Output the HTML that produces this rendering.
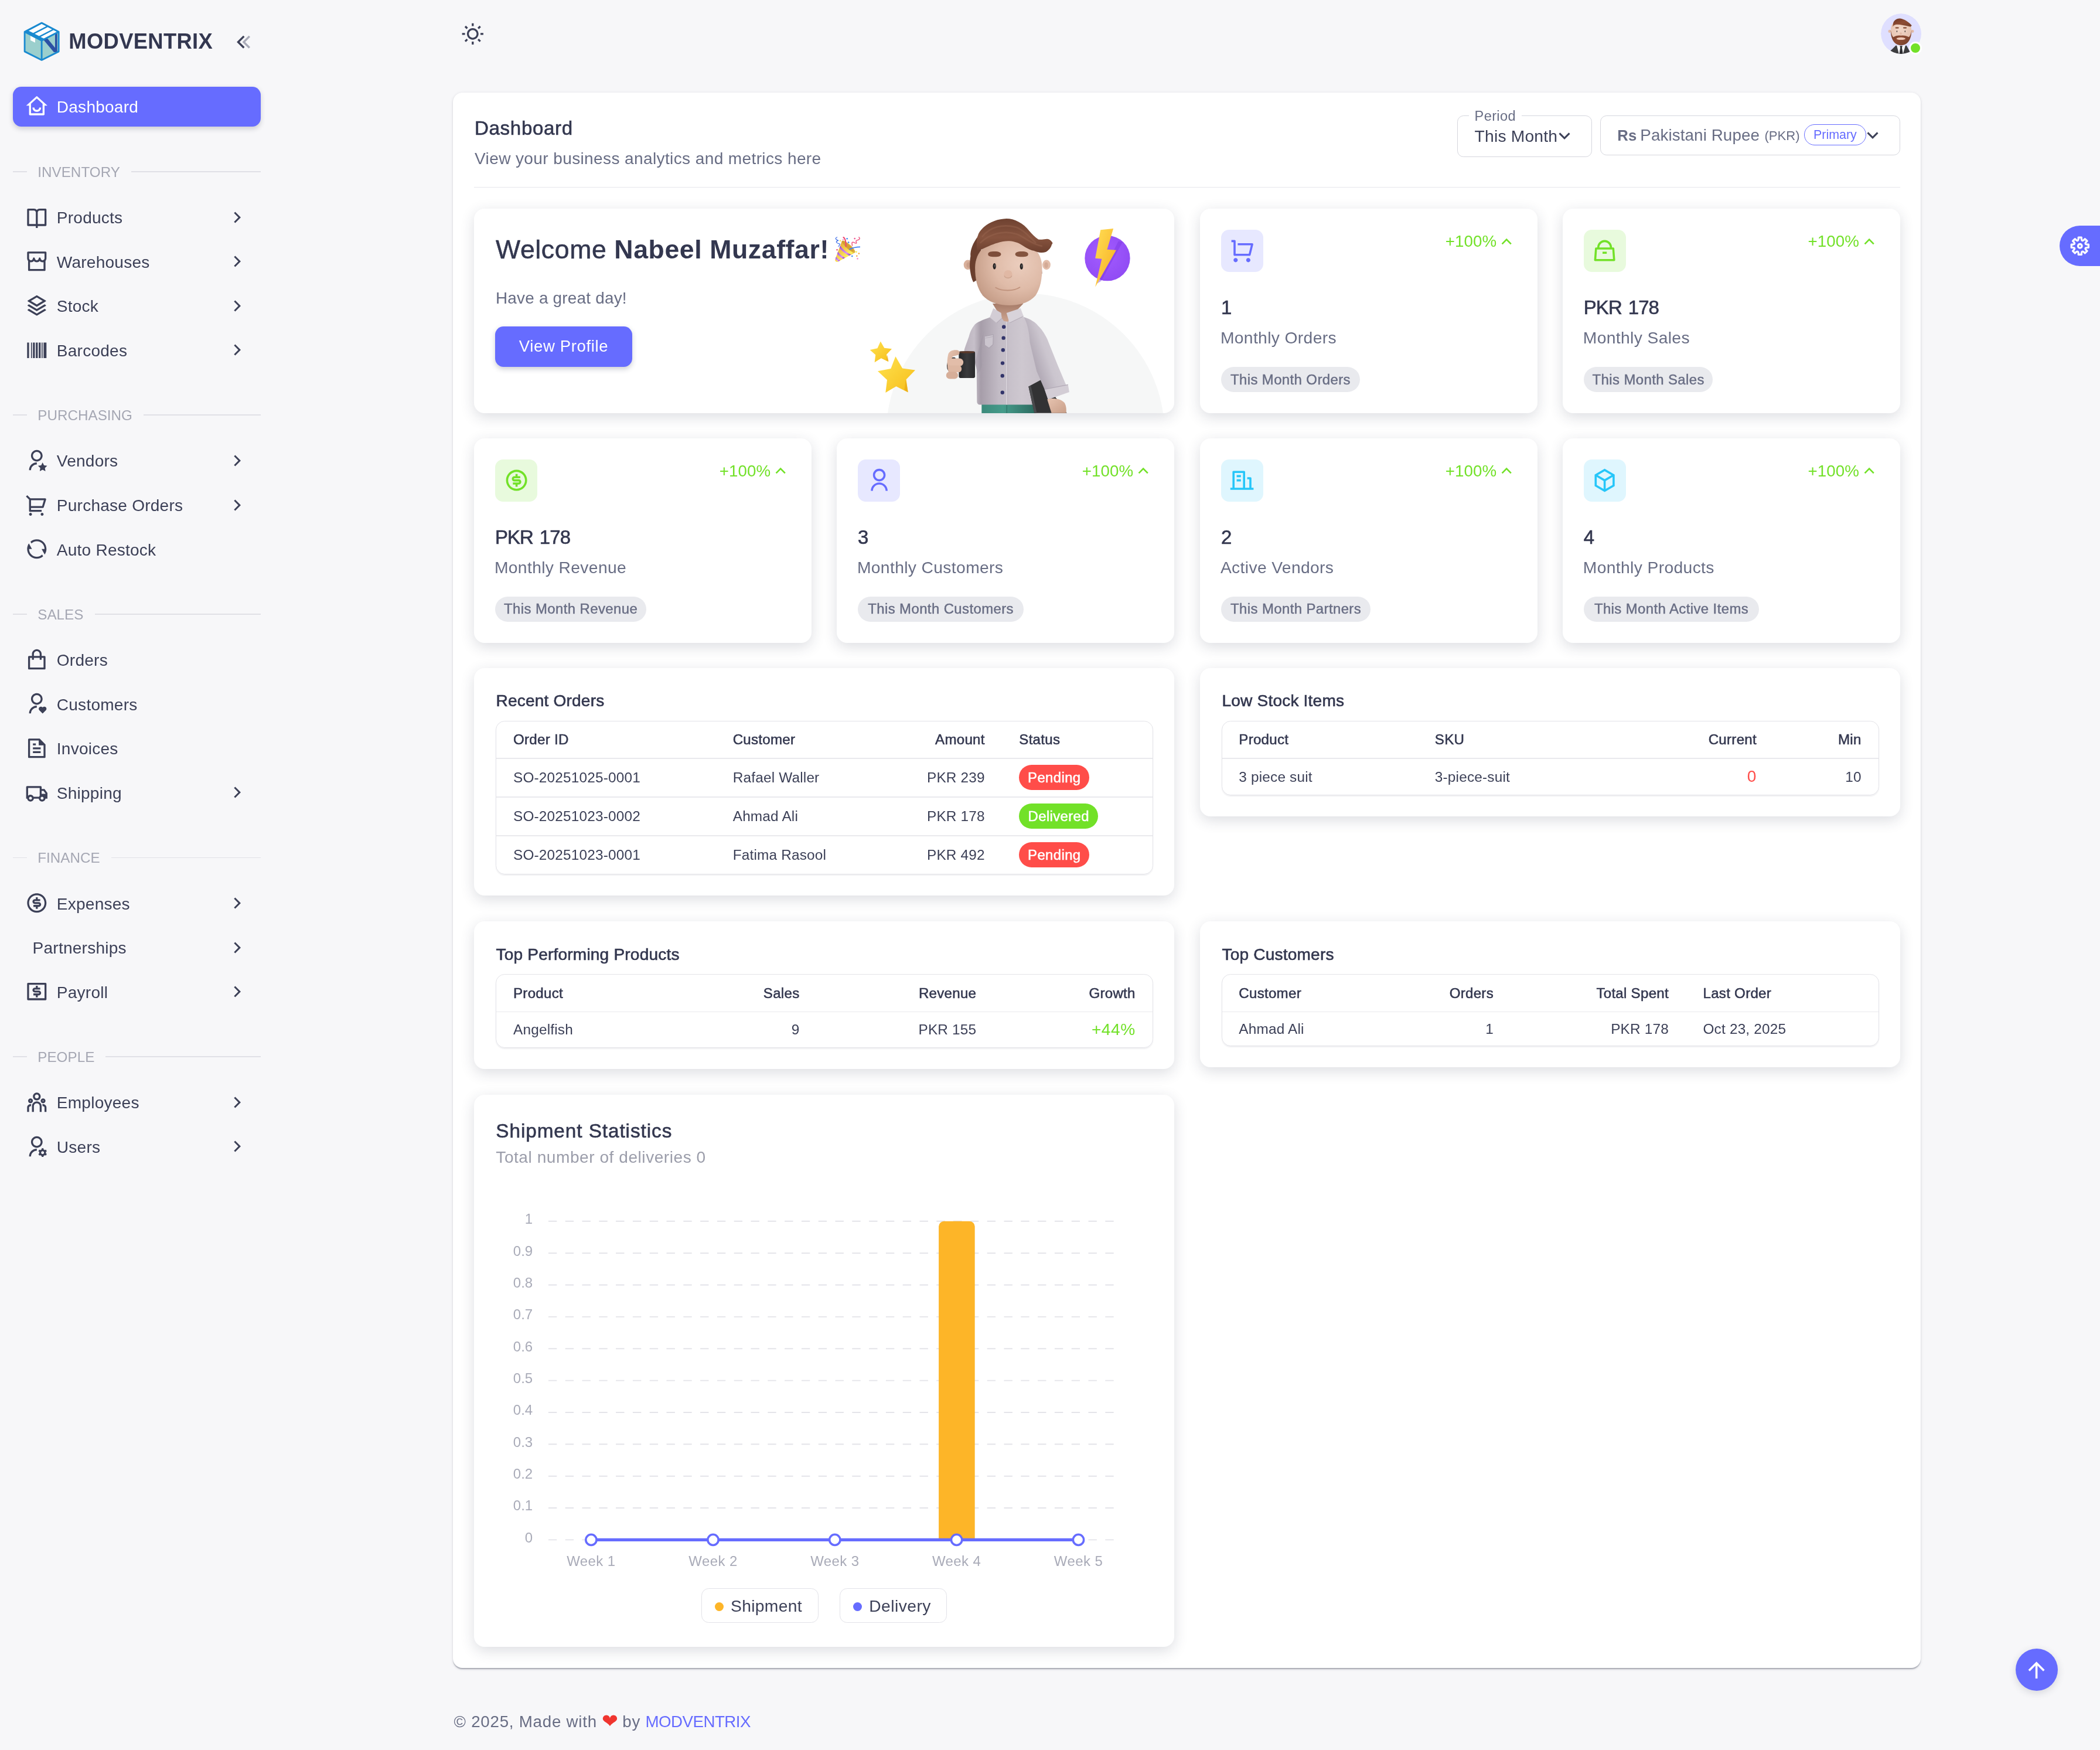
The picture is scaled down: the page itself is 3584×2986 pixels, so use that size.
<!DOCTYPE html>
<html lang="en">
<head>
<meta charset="utf-8">
<title>MODVENTRIX - Dashboard</title>
<style>
*{box-sizing:border-box;margin:0;padding:0}
html,body{background:#f7f7f9;overflow:hidden}
body{font-family:"Liberation Sans",sans-serif;color:#3c4057;-webkit-font-smoothing:antialiased}
#app{will-change:transform;position:relative;width:1991.11px;height:1658.89px;zoom:1.8;overflow:hidden;background:#f7f7f9;font-size:15px;line-height:1.4667}
@media (max-width:2600px){#app{zoom:.9}}
svg{display:block}
.abs{position:absolute}
/* ---------- sidebar ---------- */
.sidebar{position:absolute;left:0;top:0;width:260px;height:100%}
.logo{position:absolute;left:22.45px;top:20.35px;width:34.6px;height:37.5px}
.brand{position:absolute;left:65.2px;top:28.1px;font-size:20.2px;font-weight:700;line-height:22px;color:#333750;letter-spacing:.18px}
.collapse{position:absolute;left:220.6px;top:28.1px;width:23px;height:23px}
.nav{position:absolute;left:12.3px;top:82.4px;width:235px}
.item{position:relative;height:37.4px;margin-bottom:4.6px;border-radius:8px;display:flex;align-items:center;padding-left:11.5px;color:#3c4057;font-size:15.6px;letter-spacing:.12px}
.item .lb{position:relative;top:.6px}
.item .ic{width:22px;height:22px;flex:none;margin-right:8px}
.item .ic svg{width:22px;height:22px;fill:currentColor}
.item .chev{position:absolute;right:12.5px;top:8.7px;width:20px;height:20px;fill:currentColor}
.item.active{background:#666cff;color:#fff;box-shadow:0 2px 5px rgba(38,43,67,.2)}
.sect{height:62.8px;display:flex;align-items:center;padding-top:14px;font-size:13.45px;color:#a5a7b3;letter-spacing:.02px}
.sect span{margin:0 10.6px 0 9.9px;line-height:20px;position:relative;top:.35px}
.sect i{height:1px;background:#e0e0e6;display:block}
.sect i.l{width:13.5px}
.sect i.r{flex:1}
/* ---------- navbar ---------- */
.sun{position:absolute;left:437.4px;top:21px;width:22px;height:22px}
.avatar{position:absolute;left:1783.45px;top:12.75px;width:38.45px;height:38.45px;border-radius:50%;overflow:hidden}
.dot{position:absolute;left:1810.15px;top:39.65px;width:12.1px;height:12.1px;border-radius:50%;background:#72e128;border:2px solid #fff}
/* ---------- container ---------- */
.wrap{position:absolute;left:429.5px;top:87.8px;width:1391.7px;height:1493.4px;background:#fff;border-radius:9px;box-shadow:0 2px 1px -1px rgba(38,43,67,.2),0 1px 1px 0 rgba(38,43,67,.14),0 1px 3px 0 rgba(38,43,67,.12)}
.main{position:absolute;left:0;top:0;width:100%;height:100%}
.card{position:absolute;background:#fff;border-radius:10px;box-shadow:0 3.5px 13px rgba(38,43,67,.155)}
h5{font-weight:500;font-size:18px;color:#33374f}
.t2{color:#6b6e82}

/* ---------- generic text ---------- */
.t{position:absolute;line-height:1;white-space:nowrap}
.h{color:#33374f;font-weight:400;-webkit-text-stroke:.35px #33374f}
.wt{-webkit-text-stroke:.3px #33374f}
.wt b{font-weight:700;-webkit-text-stroke:0}
.p{color:#3c4057}
.s2{color:#686d84}
.s3{color:#9b9daa}
.g{color:#72e128}
.w{color:#fff}
.pr{color:#666cff}
.th{color:#33374f;-webkit-text-stroke:.3px #33374f;letter-spacing:.15px}
.td{color:#3c4057;letter-spacing:.1px}
.hr{position:absolute;height:.9px;background:#e6e6eb}
.sel{position:absolute;border:1px solid #d5d6dd;border-radius:6px;background:#fff}
.notch{position:absolute;background:#fff}
.ochip{position:absolute;border:1px solid #666cff;border-radius:20px}
.btn{position:absolute;background:#666cff;border-radius:8px;box-shadow:0 2px 5px rgba(38,43,67,.22)}
.welcome{overflow:hidden}
.tile{position:absolute;left:19.9px;top:19.9px;width:40px;height:40px;border-radius:7.6px}
.tile svg{position:absolute;left:8px;top:8px;width:24px;height:24px}
.chip{position:absolute;background:#e9eaee;border-radius:20px}
.badge{position:absolute;border-radius:20px}
.tbl{position:absolute;border:1px solid #e3e3e8;border-radius:8.5px;box-shadow:0 1px 1px rgba(38,43,67,.07)}
.tbl i{position:absolute;left:0;right:0;height:.9px;background:#e9e9ed}
.ax{font-family:"Liberation Sans",sans-serif;font-size:24px;fill:#a9abb8}
.lg{position:absolute;border:1px solid #e2e2e8;border-radius:7px}
.lg i{position:absolute;left:11.8px;top:50%;width:8.4px;height:8.4px;margin-top:-3.4px;border-radius:50%}
.heart{color:#f0352f;font-family:"DejaVu Sans",sans-serif;font-size:18.5px;line-height:0;position:relative;top:.75px;letter-spacing:0;margin:0 -.6px 0 -.2px}
.fab-set{position:absolute;background:#666cff;border-radius:20px 0 0 20px}
.fab-set svg{position:absolute;left:8.1px;top:8.25px;width:22px;height:22px}
.fab-top{position:absolute;background:#666cff;border-radius:50%;box-shadow:0 2px 7px rgba(38,43,67,.16)}
.fab-top svg{position:absolute;left:8px;top:8.5px;width:24px;height:24px}
</style>
</head>
<body>
<div id="app">
<aside class="sidebar">
<svg class="logo" viewBox="0 0 60 65">
<polygon points="30,2 58,16.5 58,49 30,63 2,49 2,16.5" fill="#9bcfcd"/>
<polygon points="30,2 58,16.5 30,31 2,16.5" fill="#1a8ad0"/>
<polygon points="30,3.6 37.5,7.5 16,18.6 8.6,14.8" fill="#fff"/>
<polygon points="40,8.8 47.2,12.5 25.7,23.7 18.5,20" fill="#fff"/>
<polygon points="49.7,13.8 55,16.6 33.6,27.8 28.2,25" fill="#fff"/>
<polygon points="11.6,23.2 19.2,27.2 19.2,34.4 11.6,30.6" fill="#fff"/>
<polygon points="33,29.8 38.8,26.8 55.3,47 55.3,50.2 50,50.2" fill="#2c51a4"/>
<polygon points="52,20 55.6,18.2 55.6,49.8 52,47" fill="#2c51a4"/>
<g fill="none" stroke="#1a8ad0" stroke-width="2.7" stroke-linejoin="round"><polygon points="30,2 58,16.5 58,49 30,63 2,49 2,16.5"/><path d="M2 16.5L30 31L58 16.5M30 31V63"/></g>
</svg>
<div class="brand">MODVENTRIX</div>
<svg class="collapse" viewBox="0 0 24 24"><path d="M12.4 12l5 5-1.4 1.4L9.6 12 16 5.6 17.4 7z" fill="#a9abb8"/><path d="M6.9 12l5 5-1.4 1.4L4.1 12l6.4-6.4L11.9 7z" fill="#3c4057"/></svg>
<nav class="nav">
<div class="item active"><span class="ic"><svg viewBox="0 0 24 24"><path d="M6 19H18V9.15745L12 3.7029L6 9.15745V19ZM19 21H5C4.44772 21 4 20.5523 4 20V11H1L11.3273 1.6115C11.7087 1.26475 12.2913 1.26475 12.6727 1.6115L23 11H20V20C20 20.5523 19.5523 21 19 21ZM7.5 13H9.5C9.5 14.3807 10.6193 15.5 12 15.5C13.3807 15.5 14.5 14.3807 14.5 13H16.5C16.5 15.4853 14.4853 17.5 12 17.5C9.51472 17.5 7.5 15.4853 7.5 13Z"/></svg></span><span class="lb">Dashboard</span></div>
<div class="sect"><i class="l"></i><span>INVENTORY</span><i class="r"></i></div>
<div class="item"><span class="ic"><svg viewBox="0 0 24 24"><path d="M13 21V23H11V21H3C2.44772 21 2 20.5523 2 20V4C2 3.44772 2.44772 3 3 3H9C10.1947 3 11.2671 3.52375 12 4.35418C12.7329 3.52375 13.8053 3 15 3H21C21.5523 3 22 3.44772 22 4V20C22 20.5523 21.5523 21 21 21H13ZM20 19V5H15C13.8954 5 13 5.89543 13 7V19H20ZM11 19V7C11 5.89543 10.1046 5 9 5H4V19H11Z"/></svg></span><span class="lb">Products</span><svg class="chev" viewBox="0 0 24 24"><path d="M13.1717 12.0007L8.22192 7.05093L9.63614 5.63672L16.0001 12.0007L9.63614 18.3646L8.22192 16.9504L13.1717 12.0007Z"/></svg></div>
<div class="item"><span class="ic"><svg viewBox="0 0 24 24"><path d="M21 11.6458V21C21 21.5523 20.5523 22 20 22H4C3.44772 22 3 21.5523 3 21V11.6458C2.37764 10.9407 2 10.0144 2 9V3C2 2.44772 2.44772 2 3 2H21C21.5523 2 22 2.44772 22 3V9C22 10.0144 21.6224 10.9407 21 11.6458ZM19 12.874C18.6804 12.9562 18.3453 13 18 13C16.8053 13 15.7329 12.4762 15 11.6458C14.2671 12.4762 13.1947 13 12 13C10.8053 13 9.73295 12.4762 9 11.6458C8.26706 12.4762 7.19469 13 6 13C5.6547 13 5.31962 12.9562 5 12.874V20H19V12.874ZM14 9C14 8.44772 14.4477 8 15 8C15.5523 8 16 8.44772 16 9C16 10.1046 16.8954 11 18 11C19.1046 11 20 10.1046 20 9V4H4V9C4 10.1046 4.89543 11 6 11C7.10457 11 8 10.1046 8 9C8 8.44772 8.44772 8 9 8C9.55228 8 10 8.44772 10 9C10 10.1046 10.8954 11 12 11C13.1046 11 14 10.1046 14 9Z"/></svg></span><span class="lb">Warehouses</span><svg class="chev" viewBox="0 0 24 24"><path d="M13.1717 12.0007L8.22192 7.05093L9.63614 5.63672L16.0001 12.0007L9.63614 18.3646L8.22192 16.9504L13.1717 12.0007Z"/></svg></div>
<div class="item"><span class="ic"><svg viewBox="0 0 24 24"><path d="M20.0833 15.1999L21.2854 15.9212C21.5221 16.0633 21.5989 16.3704 21.4569 16.6072C21.4146 16.6776 21.3557 16.7365 21.2854 16.7787L12.5144 22.0412C12.1977 22.2313 11.8021 22.2313 11.4854 22.0412L2.71451 16.7787C2.47772 16.6366 2.40093 16.3295 2.54301 16.0927C2.58523 16.0223 2.64413 15.9634 2.71451 15.9212L3.9166 15.1999L11.9999 20.0499L20.0833 15.1999ZM20.0833 10.4999L21.2854 11.2212C21.5221 11.3633 21.5989 11.6704 21.4569 11.9072C21.4146 11.9776 21.3557 12.0365 21.2854 12.0787L11.9999 17.6499L2.71451 12.0787C2.47772 11.9366 2.40093 11.6295 2.54301 11.3927C2.58523 11.3223 2.64413 11.2634 2.71451 11.2212L3.9166 10.4999L11.9999 15.3499L20.0833 10.4999ZM12.5144 1.30864L21.2854 6.5712C21.5221 6.71327 21.5989 7.0204 21.4569 7.25719C21.4146 7.32757 21.3557 7.38647 21.2854 7.42869L11.9999 12.9999L2.71451 7.42869C2.47772 7.28662 2.40093 6.97949 2.54301 6.7427C2.58523 6.67232 2.64413 6.61343 2.71451 6.5712L11.4854 1.30864C11.8021 1.11864 12.1977 1.11864 12.5144 1.30864ZM11.9999 3.33233L5.88723 6.99995L11.9999 10.6676L18.1126 6.99995L11.9999 3.33233Z"/></svg></span><span class="lb">Stock</span><svg class="chev" viewBox="0 0 24 24"><path d="M13.1717 12.0007L8.22192 7.05093L9.63614 5.63672L16.0001 12.0007L9.63614 18.3646L8.22192 16.9504L13.1717 12.0007Z"/></svg></div>
<div class="item"><span class="ic"><svg viewBox="0 0 24 24"><path d="M2 4H4V20H2V4ZM6 4H7V20H6V4ZM8 4H10V20H8V4ZM11 4H13V20H11V4ZM14 4H16V20H14V4ZM17 4H18V20H17V4ZM19 4H22V20H19V4Z"/></svg></span><span class="lb">Barcodes</span><svg class="chev" viewBox="0 0 24 24"><path d="M13.1717 12.0007L8.22192 7.05093L9.63614 5.63672L16.0001 12.0007L9.63614 18.3646L8.22192 16.9504L13.1717 12.0007Z"/></svg></div>
<div class="sect"><i class="l"></i><span>PURCHASING</span><i class="r"></i></div>
<div class="item"><span class="ic"><svg viewBox="0 0 24 24"><path d="M12 14V16C8.68629 16 6 18.6863 6 22H4C4 17.5817 7.58172 14 12 14ZM12 13C8.685 13 6 10.315 6 7C6 3.685 8.685 1 12 1C15.315 1 18 3.685 18 7C18 10.315 15.315 13 12 13ZM12 11C14.21 11 16 9.21 16 7C16 4.79 14.21 3 12 3C9.79 3 8 4.79 8 7C8 9.21 9.79 11 12 11ZM18 21.5L15.0611 23.0451L15.6224 19.7725L13.2447 17.4549L16.5305 16.9775L18 14L19.4695 16.9775L22.7553 17.4549L20.3776 19.7725L20.9389 23.0451L18 21.5Z"/></svg></span><span class="lb">Vendors</span><svg class="chev" viewBox="0 0 24 24"><path d="M13.1717 12.0007L8.22192 7.05093L9.63614 5.63672L16.0001 12.0007L9.63614 18.3646L8.22192 16.9504L13.1717 12.0007Z"/></svg></div>
<div class="item"><span class="ic"><svg viewBox="0 0 24 24"><path d="M4.00436 6.41686L0.761719 3.17422L2.17593 1.76001L5.41857 5.00265H20.6603C21.2126 5.00265 21.6603 5.45037 21.6603 6.00265C21.6603 6.09997 21.6461 6.19678 21.6182 6.29L19.2182 14.29C19.0913 14.713 18.7019 15.0027 18.2603 15.0027H6.00436V17.0027H17.0044V19.0027H5.00436C4.45207 19.0027 4.00436 18.5549 4.00436 18.0027V6.41686ZM6.00436 7.00265V13.0027H17.5163L19.3163 7.00265H6.00436ZM5.50436 23.0027C4.67593 23.0027 4.00436 22.3311 4.00436 21.5027C4.00436 20.6742 4.67593 20.0027 5.50436 20.0027C6.33279 20.0027 7.00436 20.6742 7.00436 21.5027C7.00436 22.3311 6.33279 23.0027 5.50436 23.0027ZM17.5044 23.0027C16.6759 23.0027 16.0044 22.3311 16.0044 21.5027C16.0044 20.6742 16.6759 20.0027 17.5044 20.0027C18.3328 20.0027 19.0044 20.6742 19.0044 21.5027C19.0044 22.3311 18.3328 23.0027 17.5044 23.0027Z"/></svg></span><span class="lb">Purchase Orders</span><svg class="chev" viewBox="0 0 24 24"><path d="M13.1717 12.0007L8.22192 7.05093L9.63614 5.63672L16.0001 12.0007L9.63614 18.3646L8.22192 16.9504L13.1717 12.0007Z"/></svg></div>
<div class="item"><span class="ic"><svg viewBox="0 0 24 24"><path d="M5.46257 4.43262C7.21556 2.91688 9.5007 2 12 2C17.5228 2 22 6.47715 22 12C22 14.1361 21.3302 16.1158 20.1892 17.7406L17 12H20C20 7.58172 16.4183 4 12 4C9.84982 4 7.89777 4.84827 6.46023 6.22842L5.46257 4.43262ZM18.5374 19.5674C16.7844 21.0831 14.4993 22 12 22C6.47715 22 2 17.5228 2 12C2 9.86386 2.66979 7.88416 3.8108 6.25944L7 12H4C4 16.4183 7.58172 20 12 20C14.1502 20 16.1022 19.1517 17.5398 17.7716L18.5374 19.5674Z"/></svg></span><span class="lb">Auto Restock</span></div>
<div class="sect"><i class="l"></i><span>SALES</span><i class="r"></i></div>
<div class="item"><span class="ic"><svg viewBox="0 0 24 24"><path d="M7 8V6C7 3.23858 9.23858 1 12 1C14.7614 1 17 3.23858 17 6V8H20C20.5523 8 21 8.44772 21 9V21C21 21.5523 20.5523 22 20 22H4C3.44772 22 3 21.5523 3 21V9C3 8.44772 3.44772 8 4 8H7ZM7 10H5V20H19V10H17V12H15V10H9V12H7V10ZM9 8H15V6C15 4.34315 13.6569 3 12 3C10.3431 3 9 4.34315 9 6V8Z"/></svg></span><span class="lb">Orders</span></div>
<div class="item"><span class="ic"><svg viewBox="0 0 24 24"><path d="M17.8409 15.659L18.0176 15.8358L18.1945 15.659C19.0732 14.7803 20.4978 14.7803 21.3765 15.659C22.2552 16.5377 22.2552 17.9623 21.3765 18.841L18.0176 22.1999L14.6589 18.841C13.7802 17.9623 13.7802 16.5377 14.6589 15.659C15.5376 14.7803 16.9622 14.7803 17.8409 15.659ZM12 14V16C8.68629 16 6 18.6863 6 22H4C4 17.6651 7.44784 14.1355 11.7508 14.0038L12 14ZM12 1C15.315 1 18 3.685 18 7C18 10.2397 15.4357 12.8776 12.2249 12.9959L12 13C8.685 13 6 10.315 6 7C6 3.76034 8.56434 1.12237 11.7751 1.00414L12 1ZM12 3C9.79 3 8 4.79 8 7C8 9.21 9.79 11 12 11C14.21 11 16 9.21 16 7C16 4.79 14.21 3 12 3Z"/></svg></span><span class="lb">Customers</span></div>
<div class="item"><span class="ic"><svg viewBox="0 0 24 24"><path d="M21 8V20.9932C21 21.5501 20.5552 22 20.0066 22H3.9934C3.44495 22 3 21.556 3 21.0082V2.9918C3 2.45531 3.4487 2 4.00221 2H14.9968L21 8ZM19 9H14V4H5V20H19V9ZM8 7H11V9H8V7ZM8 11H16V13H8V11ZM8 15H16V17H8V15Z"/></svg></span><span class="lb">Invoices</span></div>
<div class="item"><span class="ic"><svg viewBox="0 0 24 24"><path d="M8.96456 18C8.72194 19.6961 7.26324 21 5.5 21C3.73676 21 2.27806 19.6961 2.03544 18H1V6C1 5.44772 1.44772 5 2 5H16C16.5523 5 17 5.44772 17 6V8H20L23 12.0557V18H20.9646C20.7219 19.6961 19.2632 21 17.5 21C15.7368 21 14.2781 19.6961 14.0354 18H8.96456ZM15 7H3V15.0505C3.63526 14.4022 4.52066 14 5.5 14C6.8962 14 8.10145 14.8175 8.66318 16H14.3368C14.5045 15.647 14.7296 15.3264 15 15.0505V7ZM17 13H21V12.715L18.9917 10H17V13ZM17.5 19C18.1531 19 18.7087 18.5826 18.9146 18C18.9699 17.8436 19 17.6753 19 17.5C19 16.6716 18.3284 16 17.5 16C16.6716 16 16 16.6716 16 17.5C16 17.6753 16.0301 17.8436 16.0854 18C16.2913 18.5826 16.8469 19 17.5 19ZM7 17.5C7 16.6716 6.32843 16 5.5 16C4.67157 16 4 16.6716 4 17.5C4 17.6753 4.03008 17.8436 4.08535 18C4.29127 18.5826 4.84689 19 5.5 19C6.15311 19 6.70873 18.5826 6.91465 18C6.96992 17.8436 7 17.6753 7 17.5Z"/></svg></span><span class="lb">Shipping</span><svg class="chev" viewBox="0 0 24 24"><path d="M13.1717 12.0007L8.22192 7.05093L9.63614 5.63672L16.0001 12.0007L9.63614 18.3646L8.22192 16.9504L13.1717 12.0007Z"/></svg></div>
<div class="sect"><i class="l"></i><span>FINANCE</span><i class="r"></i></div>
<div class="item"><span class="ic"><svg viewBox="0 0 24 24"><path d="M12.0049 22.0027C6.48204 22.0027 2.00488 17.5256 2.00488 12.0027C2.00488 6.4799 6.48204 2.00275 12.0049 2.00275C17.5277 2.00275 22.0049 6.4799 22.0049 12.0027C22.0049 17.5256 17.5277 22.0027 12.0049 22.0027ZM12.0049 20.0027C16.4232 20.0027 20.0049 16.421 20.0049 12.0027C20.0049 7.58447 16.4232 4.00275 12.0049 4.00275C7.5866 4.00275 4.00488 7.58447 4.00488 12.0027C4.00488 16.421 7.5866 20.0027 12.0049 20.0027ZM8.50488 14.0027H14.0049C14.281 14.0027 14.5049 13.7789 14.5049 13.5027C14.5049 13.2266 14.281 13.0027 14.0049 13.0027H10.0049C8.62417 13.0027 7.50488 11.8835 7.50488 10.5027C7.50488 9.12203 8.62417 8.00275 10.0049 8.00275H11.0049V6.00275H13.0049V8.00275H15.5049V10.0027H10.0049C9.72874 10.0027 9.50488 10.2266 9.50488 10.5027C9.50488 10.7789 9.72874 11.0027 10.0049 11.0027H14.0049C15.3856 11.0027 16.5049 12.122 16.5049 13.5027C16.5049 14.8835 15.3856 16.0027 14.0049 16.0027H13.0049V18.0027H11.0049V16.0027H8.50488V14.0027Z"/></svg></span><span class="lb">Expenses</span><svg class="chev" viewBox="0 0 24 24"><path d="M13.1717 12.0007L8.22192 7.05093L9.63614 5.63672L16.0001 12.0007L9.63614 18.3646L8.22192 16.9504L13.1717 12.0007Z"/></svg></div>
<div class="item" style="padding-left:18.6px"><span class="lb">Partnerships</span><svg class="chev" viewBox="0 0 24 24"><path d="M13.1717 12.0007L8.22192 7.05093L9.63614 5.63672L16.0001 12.0007L9.63614 18.3646L8.22192 16.9504L13.1717 12.0007Z"/></svg></div>
<div class="item"><span class="ic"><svg viewBox="0 0 24 24"><path d="M3.00488 3.00275H21.0049C21.5572 3.00275 22.0049 3.45046 22.0049 4.00275V20.0027C22.0049 20.555 21.5572 21.0027 21.0049 21.0027H3.00488C2.4526 21.0027 2.00488 20.555 2.00488 20.0027V4.00275C2.00488 3.45046 2.4526 3.00275 3.00488 3.00275ZM4.00488 5.00275V19.0027H20.0049V5.00275H4.00488ZM8.50488 14.0027H14.0049C14.281 14.0027 14.5049 13.7789 14.5049 13.5027C14.5049 13.2266 14.281 13.0027 14.0049 13.0027H10.0049C8.62417 13.0027 7.50488 11.8835 7.50488 10.5027C7.50488 9.12203 8.62417 8.00275 10.0049 8.00275H11.0049V6.00275H13.0049V8.00275H15.5049V10.0027H10.0049C9.72874 10.0027 9.50488 10.2266 9.50488 10.5027C9.50488 10.7789 9.72874 11.0027 10.0049 11.0027H14.0049C15.3856 11.0027 16.5049 12.122 16.5049 13.5027C16.5049 14.8835 15.3856 16.0027 14.0049 16.0027H13.0049V18.0027H11.0049V16.0027H8.50488V14.0027Z"/></svg></span><span class="lb">Payroll</span><svg class="chev" viewBox="0 0 24 24"><path d="M13.1717 12.0007L8.22192 7.05093L9.63614 5.63672L16.0001 12.0007L9.63614 18.3646L8.22192 16.9504L13.1717 12.0007Z"/></svg></div>
<div class="sect"><i class="l"></i><span>PEOPLE</span><i class="r"></i></div>
<div class="item"><span class="ic"><svg viewBox="0 0 24 24"><path d="M12 11C14.7614 11 17 13.2386 17 16V22H15V16C15 14.4023 13.7511 13.0963 12.1763 13.0051L12 13C10.4023 13 9.09634 14.2489 9.00509 15.8237L9 16V22H7V16C7 13.2386 9.23858 11 12 11ZM5.5 14C5.77885 14 6.05009 14.0326 6.3101 14.0942C6.14202 14.594 6.03873 15.122 6.00896 15.6693L6 16L6.0007 16.0856C5.88757 16.0456 5.76821 16.0187 5.64446 16.0069L5.5 16C4.7203 16 4.07955 16.5949 4.00687 17.3555L4 17.5V22H2V17.5C2 15.567 3.567 14 5.5 14ZM18.5 14C20.433 14 22 15.567 22 17.5V22H20V17.5C20 16.7203 19.4051 16.0796 18.6445 16.0069L18.5 16C18.3248 16 18.1566 16.03 18.0003 16.0852L18 16C18 15.3343 17.8916 14.694 17.6915 14.0956C17.9499 14.0326 18.2211 14 18.5 14ZM5.5 8C6.88071 8 8 9.11929 8 10.5C8 11.8807 6.88071 13 5.5 13C4.11929 13 3 11.8807 3 10.5C3 9.11929 4.11929 8 5.5 8ZM18.5 8C19.8807 8 21 9.11929 21 10.5C21 11.8807 19.8807 13 18.5 13C17.1193 13 16 11.8807 16 10.5C16 9.11929 17.1193 8 18.5 8ZM5.5 10C5.22386 10 5 10.2239 5 10.5C5 10.7761 5.22386 11 5.5 11C5.77614 11 6 10.7761 6 10.5C6 10.2239 5.77614 10 5.5 10ZM18.5 10C18.2239 10 18 10.2239 18 10.5C18 10.7761 18.2239 11 18.5 11C18.7761 11 19 10.7761 19 10.5C19 10.2239 18.7761 10 18.5 10ZM12 2C14.2091 2 16 3.79086 16 6C16 8.20914 14.2091 10 12 10C9.79086 10 8 8.20914 8 6C8 3.79086 9.79086 2 12 2ZM12 4C10.8954 4 10 4.89543 10 6C10 7.10457 10.8954 8 12 8C13.1046 8 14 7.10457 14 6C14 4.89543 13.1046 4 12 4Z"/></svg></span><span class="lb">Employees</span><svg class="chev" viewBox="0 0 24 24"><path d="M13.1717 12.0007L8.22192 7.05093L9.63614 5.63672L16.0001 12.0007L9.63614 18.3646L8.22192 16.9504L13.1717 12.0007Z"/></svg></div>
<div class="item"><span class="ic"><svg viewBox="0 0 24 24"><path d="M12 14V16C8.68629 16 6 18.6863 6 22H4C4 17.5817 7.58172 14 12 14ZM12 13C8.685 13 6 10.315 6 7C6 3.685 8.685 1 12 1C15.315 1 18 3.685 18 7C18 10.315 15.315 13 12 13ZM12 11C14.21 11 16 9.21 16 7C16 4.79 14.21 3 12 3C9.79 3 8 4.79 8 7C8 9.21 9.79 11 12 11ZM14.5946 18.8115C14.5327 18.5511 14.5 18.2794 14.5 18C14.5 17.7207 14.5327 17.449 14.5945 17.1886L13.6029 16.6161L14.6029 14.884L15.5952 15.4569C15.9883 15.0851 16.4676 14.8034 17 14.6449V13.5H19V14.6449C19.5324 14.8034 20.0116 15.0851 20.4047 15.4569L21.3971 14.8839L22.3972 16.616L21.4055 17.1885C21.4673 17.449 21.5 17.7207 21.5 18C21.5 18.2793 21.4673 18.551 21.4055 18.8114L22.3972 19.3839L21.3972 21.116L20.4048 20.543C20.0117 20.9149 19.5325 21.1966 19.0001 21.355V22.5H17.0001V21.3551C16.4677 21.1967 15.9884 20.915 15.5953 20.5431L14.603 21.1161L13.6029 19.384L14.5946 18.8115ZM18 19.5C18.8284 19.5 19.5 18.8284 19.5 18C19.5 17.1716 18.8284 16.5 18 16.5C17.1716 16.5 16.5 17.1716 16.5 18C16.5 18.8284 17.1716 19.5 18 19.5Z"/></svg></span><span class="lb">Users</span><svg class="chev" viewBox="0 0 24 24"><path d="M13.1717 12.0007L8.22192 7.05093L9.63614 5.63672L16.0001 12.0007L9.63614 18.3646L8.22192 16.9504L13.1717 12.0007Z"/></svg></div>
</nav>
</aside>
<header class="navbar"><svg class="sun" viewBox="0 0 24 24" fill="#3c4057"><path d="M12 18C8.68629 18 6 15.3137 6 12C6 8.68629 8.68629 6 12 6C15.3137 6 18 8.68629 18 12C18 15.3137 15.3137 18 12 18ZM12 16C14.2091 16 16 14.2091 16 12C16 9.79086 14.2091 8 12 8C9.79086 8 8 9.79086 8 12C8 14.2091 9.79086 16 12 16ZM11 1H13V4H11V1ZM11 20H13V23H11V20ZM3.51472 4.92893L4.92893 3.51472L7.05025 5.63604L5.63604 7.05025L3.51472 4.92893ZM16.9497 18.364L18.364 16.9497L20.4853 19.0711L19.0711 20.4853L16.9497 18.364ZM19.0711 3.51472L20.4853 4.92893L18.364 7.05025L16.9497 5.63604L19.0711 3.51472ZM5.63604 16.9497L7.05025 18.364L4.92893 20.4853L3.51472 19.0711L5.63604 16.9497ZM23 11V13H20V11H23ZM4 11V13H1V11H4Z"/></svg>
<div class="avatar"><svg viewBox="0 0 1100 1100" role="img" aria-label="user avatar">
<defs>
<radialGradient id="as" cx=".45" cy=".35" r=".8"><stop offset="0" stop-color="#f1d6c7"/><stop offset=".7" stop-color="#e6c3b1"/><stop offset="1" stop-color="#cfa28d"/></radialGradient>
<linearGradient id="ah" x1="0" y1="0" x2="1" y2="1"><stop offset="0" stop-color="#6b3523"/><stop offset=".5" stop-color="#8e4c34"/><stop offset="1" stop-color="#74402c"/></linearGradient>
<clipPath id="ac"><circle cx="550" cy="550" r="550"/></clipPath>
</defs>
<circle cx="550" cy="550" r="550" fill="#dfdfff"/>
<g clip-path="url(#ac)">
<path d="M262 1010L410 868L548 900L694 866L790 1040L820 1110H230Z" fill="#3c3c3e"/>
<path d="M430 862L548 880L668 862L600 1100H490Z" fill="#f4f4f6"/>
<path d="M515 880H585L572 930L600 1100H500L528 930Z" fill="#2c2c30"/>
<ellipse cx="236" cy="482" rx="36" ry="42" fill="#e2bba8"/><ellipse cx="862" cy="482" rx="34" ry="42" fill="#e2bba8"/>
<path d="M270 450C270 250 400 190 550 190S830 250 830 450C840 700 700 850 550 850S260 700 270 450Z" fill="url(#as)"/>
<path d="M268 430C262 640 330 860 550 862C770 860 838 640 832 430C830 520 800 600 760 640C700 600 610 585 545 600C480 585 400 600 336 644C300 600 270 520 268 430Z" fill="url(#ah)"/>
<ellipse cx="545" cy="682" rx="122" ry="34" fill="#efc9b8"/>
<path d="M330 300C330 200 420 130 520 135C640 150 750 230 836 320C830 350 800 360 780 355C660 330 540 300 430 300C390 300 350 320 320 360Z" fill="url(#ah)"/>
<rect x="392" y="372" width="96" height="34" rx="17" fill="#7a4029"/><rect x="604" y="372" width="96" height="34" rx="17" fill="#7a4029"/>
<ellipse cx="436" cy="486" rx="11" ry="24" fill="#3a3434"/><ellipse cx="656" cy="486" rx="11" ry="24" fill="#3a3434"/>
<ellipse cx="542" cy="545" rx="30" ry="34" fill="#e4bca9"/>
</g>
</svg>
</div><div class="dot"></div></header>
<main class="main">
<div class="wrap" style="left:429.44px;top:87.78px;width:1391.67px;height:1493.33px"></div>
<header class="pagehead">
<div class="t h" style="top:112.20px;font-size:18.4px;left:450.00px;letter-spacing:.36px">Dashboard</div>
<div class="t s2" style="top:142.74px;font-size:15.6px;left:450.00px;letter-spacing:.2px">View your business analytics and metrics here</div>
<div class="hr" style="left:449.61px;top:177.06px;width:1351.78px"></div>
<div class="sel" style="left:1381.83px;top:109.61px;width:127.89px;height:39.22px"></div>
<div class="notch" style="left:1392.78px;top:108.33px;width:50.0px;height:5px"></div>
<div class="t s2" style="top:104.08px;font-size:13.1px;left:1398.11px;letter-spacing:.2px">Period</div>
<div class="t p" style="top:121.27px;font-size:15.7px;left:1398.11px;letter-spacing:.1px">This Month</div>
<svg class="abs" style="left:1473.44px;top:119.11000000000001px;width:20px;height:20px;fill:#3c4057" viewBox="0 0 24 24"><path d="M11.9999 13.1714L16.9497 8.22168L18.3639 9.63589L11.9999 15.9999L5.63599 9.63589L7.0502 8.22168L11.9999 13.1714Z"/></svg>
<div class="sel" style="left:1517.44px;top:109.61px;width:284.33px;height:37.56px"></div>
<div class="t s2" style="top:121.40px;font-size:14.3px;left:1533.50px;"><b>Rs</b></div>
<div class="t s2" style="top:120.42px;font-size:15.45px;left:1555.17px;letter-spacing:.05px">Pakistani Rupee</div>
<div class="t s2" style="top:122.53px;font-size:12.3px;left:1673.00px;">(PKR)</div>
<div class="ochip" style="left:1710.5px;top:117.67px;width:58.78px;height:19.94px"></div>
<div class="t pr" style="top:122.48px;font-size:11.9px;left:1589.94px;width:300px;text-align:center;font-weight:500;">Primary</div>
<svg class="abs" style="left:1765.67px;top:118.5px;width:20px;height:20px;fill:#3c4057" viewBox="0 0 24 24"><path d="M11.9999 13.1714L16.9497 8.22168L18.3639 9.63589L11.9999 15.9999L5.63599 9.63589L7.0502 8.22168L11.9999 13.1714Z"/></svg>
</header>
<section class="card welcome" style="left:449.61px;top:197.89px;width:663.72px;height:193.67px"><svg class="illus" viewBox="0 0 2100 1350" style="position:absolute;left:355.94px;top:-3.44px;width:311.11px;height:200px" role="img" aria-label="illustration">
<defs>
<radialGradient id="skin" cx=".66" cy=".38" r=".85"><stop offset="0" stop-color="#ebcdbd"/><stop offset=".45" stop-color="#dfbba8"/><stop offset=".8" stop-color="#c79f8a"/><stop offset="1" stop-color="#a87f6c"/></radialGradient>
<linearGradient id="skin2" x1="0" y1="0" x2="1" y2="1"><stop offset="0" stop-color="#e6c3b0"/><stop offset="1" stop-color="#c99f89"/></linearGradient>
<linearGradient id="neck" x1="0" y1="0" x2="0" y2="1"><stop offset="0" stop-color="#a67b68"/><stop offset="1" stop-color="#cda591"/></linearGradient>
<linearGradient id="hair" x1="0" y1="0" x2="0" y2="1"><stop offset="0" stop-color="#6f4231"/><stop offset=".55" stop-color="#87543f"/><stop offset="1" stop-color="#6d402f"/></linearGradient>
<linearGradient id="shirt" gradientUnits="userSpaceOnUse" x1="734" y1="0" x2="1260" y2="0"><stop offset="0" stop-color="#bcb4bf"/><stop offset=".12" stop-color="#c6bfc9"/><stop offset=".2" stop-color="#a69da9"/><stop offset=".42" stop-color="#c2bbc5"/><stop offset=".7" stop-color="#cec8d0"/><stop offset="1" stop-color="#c4bdc7"/></linearGradient>
<linearGradient id="arm" gradientUnits="userSpaceOnUse" x1="1150" y1="900" x2="1380" y2="820"><stop offset="0" stop-color="#b3abb7"/><stop offset=".35" stop-color="#cbc5ce"/><stop offset="1" stop-color="#d8d3da"/></linearGradient>
<linearGradient id="star" x1="0" y1="0" x2="1" y2="1"><stop offset="0" stop-color="#ffe350"/><stop offset="1" stop-color="#f6bd1a"/></linearGradient>
<radialGradient id="purp" cx=".42" cy=".4" r=".75"><stop offset="0" stop-color="#a35cff"/><stop offset="1" stop-color="#8d48f2"/></radialGradient>
<linearGradient id="bolt" x1="0" y1="0" x2="1" y2="1"><stop offset="0" stop-color="#ffdd55"/><stop offset="1" stop-color="#f7ad1e"/></linearGradient>
<linearGradient id="mug" x1="0" y1="0" x2="1" y2="0"><stop offset="0" stop-color="#262628"/><stop offset=".5" stop-color="#3a3a3c"/><stop offset="1" stop-color="#2a2a2c"/></linearGradient>
<linearGradient id="pants" x1="0" y1="0" x2="1" y2="0"><stop offset="0" stop-color="#3c8a7b"/><stop offset=".4" stop-color="#459b8a"/><stop offset="1" stop-color="#2b6a5f"/></linearGradient>
</defs>
<circle cx="1125" cy="1455" r="890" fill="#f6f7f7"/>
<!-- stars -->
<g fill="url(#star)">
<path d="M198 872l24 42 48 6-34 36 12 46-46-22-42 26 6-48-36-32 48-10z"/>
<path d="M294 968l44 76 82 12-58 60 12 82-76-38-68 40 10-82-60-56 84-16z"/>
</g>
<path d="M250 1000l-14-8 6-34zM374 1196l-24-12 10-68z" fill="#e3a012" opacity=".55"/>
<!-- lightning badge -->
<circle cx="1650" cy="340" r="145" fill="url(#purp)"/>
<path d="M1720 232l-136 270 26-16 138-252z" fill="#7b35df" opacity=".45"/>
<path d="M1606 158l82-8-40 134 58 4-134 236 42-180-42-4z" fill="url(#bolt)"/>
<!-- pants -->
<path d="M845 1268h345v70H845z" fill="url(#pants)"/>
<path d="M1006 1275v60" stroke="#2f7568" stroke-width="5"/>
<!-- torso + left arm -->
<path d="M897 718C850 735 815 750 802 763C780 790 770 815 764 840C750 880 740 905 734 926L734 1000L800 1010C812 1040 818 1060 813 1080L815 1256C815 1268 822 1277 835 1277L1250 1277L1260 1180L1200 900L1180 760L1115 716L1006 700Z" fill="url(#shirt)"/>
<path d="M862 800C846 870 840 950 846 1010C848 1040 838 1066 813 1080L808 1012 800 1010C822 950 836 880 862 800Z" fill="#9a91a0" opacity=".35"/>
<!-- tablet -->
<path d="M1145 1161L1222 1119C1232 1114 1240 1118 1246 1128L1390 1330L1182 1330Z" fill="#323234"/>
<path d="M1145 1161L1182 1330L1198 1330L1160 1156Z" fill="#4a4a4d"/>
<!-- right arm -->
<path d="M1115 716C1160 730 1190 750 1205 771C1235 800 1252 830 1265 857L1334 1029L1402 1191L1270 1243L1248 1179L1197 1063L1154 879C1150 820 1140 760 1115 716Z" fill="url(#arm)"/>
<path d="M1248 1179L1398 1149L1406 1196L1270 1244Z" fill="#d3cdd5"/>
<path d="M1248 1179L1398 1149" stroke="#b2aab6" stroke-width="5" fill="none"/>
<path d="M1265 1243C1300 1232 1352 1238 1376 1266C1386 1286 1388 1302 1386 1330L1292 1330Z" fill="url(#skin2)"/>
<!-- placket, buttons, pocket -->
<path d="M1006 741L1006 1277" stroke="#ded9e0" stroke-width="5" fill="none"/>
<path d="M1011 741L1011 1277" stroke="#aaa2ae" stroke-width="3" fill="none" opacity=".6"/>
<g fill="#32346a"><circle cx="987" cy="779" r="12"/><circle cx="985" cy="850" r="12"/><circle cx="982" cy="927" r="12"/><circle cx="979" cy="1011" r="12"/><circle cx="978" cy="1092" r="12"/><circle cx="978" cy="1199" r="12"/></g>
<path d="M863 840L920 829L918 892L892 915L865 896Z" fill="#cbc5ce" stroke="#aaa2ae" stroke-width="4" stroke-linejoin="round"/>
<path d="M863 852L920 841" stroke="#b1a9b5" stroke-width="3"/>
<!-- neck + collar -->
<path d="M915 630L1112 630L1045 700L1012 746L987 742L958 700Z" fill="url(#neck)"/>
<path d="M920 660L970 690L974 724L940 754L897 718Z" fill="#d3cdd5"/>
<path d="M1094 660L1113 711L1023 754L1004 690Z" fill="#d8d3da"/>
<path d="M940 754L974 724M1023 754L1113 711" stroke="#aaa2ae" stroke-width="4" opacity=".7"/>
<!-- mug + hand -->
<path d="M668 985C624 985 620 1066 666 1068" stroke="#2a2a2c" stroke-width="22" fill="none" stroke-linecap="round"/>
<rect x="699" y="936" width="104" height="170" rx="9" fill="url(#mug)"/>
<ellipse cx="751" cy="941" rx="50" ry="7" fill="#59382a"/>
<path d="M632 952C640 930 668 924 690 928C706 932 708 950 696 958L660 968C640 1000 640 1060 650 1100C630 1080 616 1010 632 952Z" fill="url(#skin2)"/>
<rect x="631" y="981" width="97" height="50" rx="24" fill="#e2bda9"/>
<rect x="630" y="1026" width="87" height="44" rx="21" fill="#ddb7a2"/>
<rect x="618" y="1066" width="76" height="46" rx="22" fill="#d6ae99"/>
<!-- head -->
<ellipse cx="757" cy="382" rx="27" ry="31" fill="#d9b09b"/><ellipse cx="761" cy="384" rx="13" ry="18" fill="#c99f8a"/>
<ellipse cx="1260" cy="382" rx="26" ry="31" fill="#e2bdaa"/><ellipse cx="1258" cy="384" rx="12" ry="18" fill="#d3aa96"/>
<path d="M822 200C790 240 770 290 774 327C768 360 768 400 772 423C776 450 782 475 792 493L812 481L842 284Z" fill="#6a3f2e"/>
<path d="M1197 296C1215 330 1228 380 1232 435L1220 476L1185 300Z" fill="#7a4a37"/>
<path d="M803 400C803 300 880 215 1017 215C1155 215 1232 300 1232 400C1232 470 1222 530 1190 578C1150 625 1090 641 1023 641C955 641 895 625 852 578C815 530 803 470 803 400Z" fill="url(#skin)"/>
<path d="M842 284C870 272 910 252 946 242C975 232 1000 229 1023 230C1055 232 1080 242 1100 254C1130 272 1150 286 1178 292C1195 298 1210 304 1224 304C1236 304 1246 303 1255 300C1275 290 1290 270 1293 254C1300 246 1300 240 1297 238C1285 222 1272 216 1262 217C1245 220 1225 222 1208 219C1185 205 1168 185 1150 165C1130 140 1108 120 1081 107C1055 92 1030 86 1004 86C950 88 900 105 860 140C840 158 826 178 822 192C812 215 810 250 816 290Z" fill="url(#hair)"/>
<path d="M850 200C900 140 980 120 1060 140C1110 156 1150 200 1190 240M838 240C900 180 990 160 1070 186C1120 204 1160 250 1230 262" stroke="#9a6650" stroke-width="10" fill="none" opacity=".45" stroke-linecap="round"/>
<path d="M886 314C886 300 900 296 928 296C956 296 969 304 969 314C969 326 956 331 928 331C900 331 886 327 886 314Z" fill="#7d4d3a"/>
<path d="M1060 314C1060 302 1074 296 1102 296C1130 296 1143 302 1143 314C1143 327 1130 331 1102 331C1074 331 1060 326 1060 314Z" fill="#84543f"/>
<ellipse cx="927" cy="391" rx="10" ry="20" fill="#252222"/><ellipse cx="1100" cy="392" rx="10" ry="20" fill="#252222"/>
<ellipse cx="930" cy="388" rx="3" ry="10" fill="#6b6b6b"/><ellipse cx="1103" cy="389" rx="3" ry="10" fill="#6b6b6b"/>
<circle cx="1014" cy="443" r="27" fill="#e0b8a4"/><path d="M990 452C996 470 1030 472 1038 452" stroke="#c29a86" stroke-width="6" fill="none" opacity=".6"/>
<path d="M935 528C975 552 1050 552 1089 526" stroke="#c0937d" stroke-width="7" fill="none" stroke-linecap="round"/>
</svg>
<div class="t h wt" style="top:26.84px;font-size:24.8px;left:20.39px;font-weight:400;letter-spacing:.33px">Welcome <b>Nabeel Muzaffar!</b></div><span class="abs" style="left:342.11px;top:26.61px;width:23.78px;height:23.89px"><svg viewBox="0 0 1250 1255" role="img" aria-label="party popper"><title>🎉</title>
<defs>
<linearGradient id="pg" x1=".1" y1=".2" x2=".75" y2=".9"><stop offset="0" stop-color="#e2a83a"/><stop offset=".45" stop-color="#f5cf4e"/><stop offset=".8" stop-color="#fdf25e"/><stop offset="1" stop-color="#d79a27"/></linearGradient>
<linearGradient id="pp" x1="0" y1="0" x2="1" y2="1"><stop offset="0" stop-color="#9a4fd6"/><stop offset=".7" stop-color="#dd92fa"/><stop offset="1" stop-color="#8a3fc4"/></linearGradient>
<clipPath id="pc"><path d="M352 200L8 1130C-10 1200 60 1270 140 1248L1002 786Z"/></clipPath>
</defs>
<path d="M352 200L8 1130C-10 1200 60 1270 140 1248L1002 786Z" fill="url(#pg)"/>
<g clip-path="url(#pc)" stroke="url(#pp)" fill="none" stroke-width="92"><path d="M225 470C330 640 560 840 790 930"/><path d="M110 770C190 900 330 1010 470 1080"/><path d="M10 1010C60 1090 140 1160 230 1215"/></g>
<ellipse cx="677" cy="492" rx="432" ry="118" transform="rotate(41.5 677 492)" fill="#dfae3c"/>
<ellipse cx="640" cy="470" rx="380" ry="84" transform="rotate(41.5 640 470)" fill="#c9932c" opacity=".55"/>
<path d="M545 480C552 300 540 115 425 28" stroke="#ef4670" stroke-width="62" fill="none" stroke-linecap="round"/>
<path d="M735 622C900 540 1080 512 1245 508" stroke="#3f80f5" stroke-width="56" fill="none" stroke-linecap="round"/>
<path d="M105 22C5 60 10 128 165 188C30 230 25 300 235 352C262 400 205 450 172 478" stroke="#3f6fe8" stroke-width="36" fill="none" stroke-linecap="round" stroke-linejoin="round"/>
<path d="M1195 20C1262 82 1232 150 1100 172C1002 200 1090 288 1070 320C1000 342 905 222 852 292C832 340 868 400 860 442" stroke="#ee5a84" stroke-width="44" fill="none" stroke-linecap="round" stroke-linejoin="round"/>
<circle cx="605" cy="95" r="40" fill="#3f8af5"/><circle cx="675" cy="280" r="42" fill="#3f8af5"/><circle cx="985" cy="90" r="40" fill="#ee5a94"/><circle cx="405" cy="140" r="30" fill="#f27fb6"/>
<circle cx="265" cy="200" r="38" fill="#f6ee4a"/><circle cx="105" cy="650" r="38" fill="#ec4a74"/><circle cx="1065" cy="755" r="38" fill="#f6ee4a"/><circle cx="1195" cy="835" r="38" fill="#f5a742"/>
<circle cx="1090" cy="955" r="38" fill="#f5a742"/><circle cx="855" cy="965" r="40" fill="#3f8af5"/><circle cx="1125" cy="1095" r="40" fill="#f38fd0"/>
</svg>
</span><div class="t s2" style="top:76.93px;font-size:15.5px;left:20.39px;letter-spacing:.12px">Have a great day!</div><div class="btn" style="left:19.83px;top:111.56px;width:130.0px;height:38.17px"></div><div class="t w" style="top:122.88px;font-size:15.3px;left:-65.17px;width:300px;text-align:center;font-weight:400;letter-spacing:.35px">View Profile</div></section>
<section class="card stat" style="left:1137.94px;top:197.89px;width:319.83px;height:193.67px"><div class="tile" style="background:#e7e8ff"><svg viewBox="0 0 24 24" fill="#666cff"><path d="M4.00488 16V4H2.00488V2H5.00488C5.55717 2 6.00488 2.44772 6.00488 3V15H18.4433L20.4433 7H8.00488V5H21.7241C22.2764 5 22.7241 5.44772 22.7241 6C22.7241 6.08176 22.7141 6.16322 22.6942 6.24254L20.1942 16.2425C20.083 16.6877 19.683 17 19.2241 17H5.00488C4.4526 17 4.00488 16.5523 4.00488 16ZM6.00488 23C4.90031 23 4.00488 22.1046 4.00488 21C4.00488 19.8954 4.90031 19 6.00488 19C7.10945 19 8.00488 19.8954 8.00488 21C8.00488 22.1046 7.10945 23 6.00488 23ZM18.0049 23C16.9003 23 16.0049 22.1046 16.0049 21C16.0049 19.8954 16.9003 19 18.0049 19C19.1095 19 20.0049 19.8954 20.0049 21C20.0049 22.1046 19.1095 23 18.0049 23Z"/></svg></div><div class="t g" style="top:23.30px;font-size:15.4px;right:38.78px;letter-spacing:.05px">+100%</div><svg class="abs" style="right:20.22px;top:21.94px;width:18px;height:18px;fill:#72e128" viewBox="0 0 24 24"><path d="M11.9999 10.8284L7.0502 15.7782L5.63599 14.364L11.9999 8L18.3639 14.364L16.9497 15.7782L11.9999 10.8284Z"/></svg><div class="t h" style="top:85.06px;font-size:18.3px;left:19.78px;letter-spacing:-.5px;word-spacing:1.5px">1</div><div class="t s2" style="top:114.60px;font-size:15.7px;left:19.22px;letter-spacing:.2px">Monthly Orders</div><div class="chip" style="left:19.89px;top:150.11px;width:131.5px;height:23.67px"></div><div class="t s2" style="top:155.19px;font-size:13.3px;left:-64.36px;width:300px;text-align:center;font-weight:400;letter-spacing:.22px;-webkit-text-stroke:.25px #6b6f85">This Month Orders</div></section>
<section class="card stat" style="left:1481.78px;top:197.89px;width:319.83px;height:193.67px"><div class="tile" style="background:#e8fadd"><svg viewBox="0 0 24 24" fill="#72e128"><path d="M12 2C15.87 2 19 5.13 19 9H20.2C20.7 9 21.1 9.4 21.15 9.9L22 20.9C22.05 21.5 21.6 22 21 22H3C2.4 22 1.95 21.5 2 20.9L2.85 9.9C2.9 9.4 3.3 9 3.8 9H5C5 5.13 8.13 2 12 2ZM7 9H17C17 6.24 14.76 4 12 4C9.24 4 7 6.24 7 9ZM4.72 11L4.08 20H19.92L19.28 11H4.72ZM10 13H14V15H10V13Z"/></svg></div><div class="t g" style="top:23.30px;font-size:15.4px;right:38.78px;letter-spacing:.05px">+100%</div><svg class="abs" style="right:20.22px;top:21.94px;width:18px;height:18px;fill:#72e128" viewBox="0 0 24 24"><path d="M11.9999 10.8284L7.0502 15.7782L5.63599 14.364L11.9999 8L18.3639 14.364L16.9497 15.7782L11.9999 10.8284Z"/></svg><div class="t h" style="top:85.06px;font-size:18.3px;left:19.78px;letter-spacing:-.5px;word-spacing:1.5px">PKR 178</div><div class="t s2" style="top:114.60px;font-size:15.7px;left:19.22px;letter-spacing:.2px">Monthly Sales</div><div class="chip" style="left:19.89px;top:150.11px;width:122.44px;height:23.67px"></div><div class="t s2" style="top:155.19px;font-size:13.3px;left:-68.89px;width:300px;text-align:center;font-weight:400;letter-spacing:.22px;-webkit-text-stroke:.25px #6b6f85">This Month Sales</div></section>
<section class="card stat" style="left:449.61px;top:415.56px;width:319.83px;height:193.67px"><div class="tile" style="background:#e8fadd"><svg viewBox="0 0 24 24" fill="#72e128"><path d="M12.0049 22.0027C6.48204 22.0027 2.00488 17.5256 2.00488 12.0027C2.00488 6.4799 6.48204 2.00275 12.0049 2.00275C17.5277 2.00275 22.0049 6.4799 22.0049 12.0027C22.0049 17.5256 17.5277 22.0027 12.0049 22.0027ZM12.0049 20.0027C16.4232 20.0027 20.0049 16.421 20.0049 12.0027C20.0049 7.58447 16.4232 4.00275 12.0049 4.00275C7.5866 4.00275 4.00488 7.58447 4.00488 12.0027C4.00488 16.421 7.5866 20.0027 12.0049 20.0027ZM8.50488 14.0027H14.0049C14.281 14.0027 14.5049 13.7789 14.5049 13.5027C14.5049 13.2266 14.281 13.0027 14.0049 13.0027H10.0049C8.62417 13.0027 7.50488 11.8835 7.50488 10.5027C7.50488 9.12203 8.62417 8.00275 10.0049 8.00275H11.0049V6.00275H13.0049V8.00275H15.5049V10.0027H10.0049C9.72874 10.0027 9.50488 10.2266 9.50488 10.5027C9.50488 10.7789 9.72874 11.0027 10.0049 11.0027H14.0049C15.3856 11.0027 16.5049 12.122 16.5049 13.5027C16.5049 14.8835 15.3856 16.0027 14.0049 16.0027H13.0049V18.0027H11.0049V16.0027H8.50488V14.0027Z"/></svg></div><div class="t g" style="top:23.30px;font-size:15.4px;right:38.78px;letter-spacing:.05px">+100%</div><svg class="abs" style="right:20.22px;top:21.94px;width:18px;height:18px;fill:#72e128" viewBox="0 0 24 24"><path d="M11.9999 10.8284L7.0502 15.7782L5.63599 14.364L11.9999 8L18.3639 14.364L16.9497 15.7782L11.9999 10.8284Z"/></svg><div class="t h" style="top:85.06px;font-size:18.3px;left:19.78px;letter-spacing:-.5px;word-spacing:1.5px">PKR 178</div><div class="t s2" style="top:114.60px;font-size:15.7px;left:19.22px;letter-spacing:.2px">Monthly Revenue</div><div class="chip" style="left:19.89px;top:150.11px;width:143.33px;height:23.67px"></div><div class="t s2" style="top:155.19px;font-size:13.3px;left:-58.44px;width:300px;text-align:center;font-weight:400;letter-spacing:.22px;-webkit-text-stroke:.25px #6b6f85">This Month Revenue</div></section>
<section class="card stat" style="left:793.5px;top:415.56px;width:319.83px;height:193.67px"><div class="tile" style="background:#e7e8ff"><svg viewBox="0 0 24 24" fill="#666cff"><path d="M4 22C4 17.5817 7.58172 14 12 14C16.4183 14 20 17.5817 20 22H18C18 18.6863 15.3137 16 12 16C8.68629 16 6 18.6863 6 22H4ZM12 13C8.685 13 6 10.315 6 7C6 3.685 8.685 1 12 1C15.315 1 18 3.685 18 7C18 10.315 15.315 13 12 13ZM12 11C14.21 11 16 9.21 16 7C16 4.79 14.21 3 12 3C9.79 3 8 4.79 8 7C8 9.21 9.79 11 12 11Z"/></svg></div><div class="t g" style="top:23.30px;font-size:15.4px;right:38.78px;letter-spacing:.05px">+100%</div><svg class="abs" style="right:20.22px;top:21.94px;width:18px;height:18px;fill:#72e128" viewBox="0 0 24 24"><path d="M11.9999 10.8284L7.0502 15.7782L5.63599 14.364L11.9999 8L18.3639 14.364L16.9497 15.7782L11.9999 10.8284Z"/></svg><div class="t h" style="top:85.06px;font-size:18.3px;left:19.78px;letter-spacing:-.5px;word-spacing:1.5px">3</div><div class="t s2" style="top:114.60px;font-size:15.7px;left:19.22px;letter-spacing:.2px">Monthly Customers</div><div class="chip" style="left:19.89px;top:150.11px;width:157.22px;height:23.67px"></div><div class="t s2" style="top:155.19px;font-size:13.3px;left:-51.50px;width:300px;text-align:center;font-weight:400;letter-spacing:.22px;-webkit-text-stroke:.25px #6b6f85">This Month Customers</div></section>
<section class="card stat" style="left:1137.94px;top:415.56px;width:319.83px;height:193.67px"><div class="tile" style="background:#dff6fe"><svg viewBox="0 0 24 24" fill="#26c6f9"><path d="M21 19H23V21H1V19H3V4C3 3.44772 3.44772 3 4 3H14C14.5523 3 15 3.44772 15 4V19H19V11H17V9H20C20.5523 9 21 9.44772 21 10V19ZM5 5V19H13V5H5ZM7 11H11V13H7V11ZM7 7H11V9H7V7Z"/></svg></div><div class="t g" style="top:23.30px;font-size:15.4px;right:38.78px;letter-spacing:.05px">+100%</div><svg class="abs" style="right:20.22px;top:21.94px;width:18px;height:18px;fill:#72e128" viewBox="0 0 24 24"><path d="M11.9999 10.8284L7.0502 15.7782L5.63599 14.364L11.9999 8L18.3639 14.364L16.9497 15.7782L11.9999 10.8284Z"/></svg><div class="t h" style="top:85.06px;font-size:18.3px;left:19.78px;letter-spacing:-.5px;word-spacing:1.5px">2</div><div class="t s2" style="top:114.60px;font-size:15.7px;left:19.22px;letter-spacing:.2px">Active Vendors</div><div class="chip" style="left:19.89px;top:150.11px;width:141.67px;height:23.67px"></div><div class="t s2" style="top:155.19px;font-size:13.3px;left:-59.28px;width:300px;text-align:center;font-weight:400;letter-spacing:.22px;-webkit-text-stroke:.25px #6b6f85">This Month Partners</div></section>
<section class="card stat" style="left:1481.78px;top:415.56px;width:319.83px;height:193.67px"><div class="tile" style="background:#dff6fe"><svg viewBox="0 0 24 24" fill="#26c6f9"><path d="M12 1L21.5 6.5V17.5L12 23L2.5 17.5V6.5L12 1ZM5.49388 7.0777L12.0001 10.8444L18.5062 7.07774L12 3.311L5.49388 7.0777ZM4.5 8.81329V16.3469L11.0001 20.1101V12.5765L4.5 8.81329ZM13.0001 20.11L19.5 16.3469V8.81337L13.0001 12.5765V20.11Z"/></svg></div><div class="t g" style="top:23.30px;font-size:15.4px;right:38.78px;letter-spacing:.05px">+100%</div><svg class="abs" style="right:20.22px;top:21.94px;width:18px;height:18px;fill:#72e128" viewBox="0 0 24 24"><path d="M11.9999 10.8284L7.0502 15.7782L5.63599 14.364L11.9999 8L18.3639 14.364L16.9497 15.7782L11.9999 10.8284Z"/></svg><div class="t h" style="top:85.06px;font-size:18.3px;left:19.78px;letter-spacing:-.5px;word-spacing:1.5px">4</div><div class="t s2" style="top:114.60px;font-size:15.7px;left:19.22px;letter-spacing:.2px">Monthly Products</div><div class="chip" style="left:19.89px;top:150.11px;width:166.11px;height:23.67px"></div><div class="t s2" style="top:155.19px;font-size:13.3px;left:-47.06px;width:300px;text-align:center;font-weight:400;letter-spacing:.22px;-webkit-text-stroke:.25px #6b6f85">This Month Active Items</div></section>
<section class="card tcard" style="left:449.61px;top:633.33px;width:663.72px;height:215.72px"><div class="t h" style="top:23.35px;font-size:15.6px;left:20.67px;letter-spacing:.1px">Recent Orders</div><div class="tbl" style="left:20.22px;top:50.0px;width:623.61px;height:145.39px"><i style="top:34.620000000000005px"></i><i style="top:71.34px"></i><i style="top:108.06px"></i></div><div class="t th" style="top:61.24px;font-size:13.4px;left:37.06px;">Order ID</div><div class="t th" style="top:61.24px;font-size:13.4px;left:245.22px;">Customer</div><div class="t th" style="top:61.24px;font-size:13.4px;right:179.56px;">Amount</div><div class="t th" style="top:61.24px;font-size:13.4px;left:516.67px;">Status</div><div class="t td" style="top:97.28px;font-size:13.55px;left:37.06px;">SO-20251025-0001</div><div class="t td" style="top:97.28px;font-size:13.55px;left:245.22px;">Rafael Waller</div><div class="t td" style="top:97.28px;font-size:13.55px;right:179.56px;">PKR 239</div><div class="badge" style="left:516.67px;top:91.58px;width:66.67px;height:23.89px;background:#ff4d49"></div><div class="t w" style="top:97.38px;font-size:13.3px;left:400.00px;width:300px;text-align:center;letter-spacing:.2px;-webkit-text-stroke:.3px #fff">Pending</div><div class="t td" style="top:134.00px;font-size:13.55px;left:37.06px;">SO-20251023-0002</div><div class="t td" style="top:134.00px;font-size:13.55px;left:245.22px;">Ahmad Ali</div><div class="t td" style="top:134.00px;font-size:13.55px;right:179.56px;">PKR 178</div><div class="badge" style="left:516.67px;top:128.31px;width:75.0px;height:23.89px;background:#72e128"></div><div class="t w" style="top:134.10px;font-size:13.3px;left:404.17px;width:300px;text-align:center;letter-spacing:.2px;-webkit-text-stroke:.3px #fff">Delivered</div><div class="t td" style="top:170.72px;font-size:13.55px;left:37.06px;">SO-20251023-0001</div><div class="t td" style="top:170.72px;font-size:13.55px;left:245.22px;">Fatima Rasool</div><div class="t td" style="top:170.72px;font-size:13.55px;right:179.56px;">PKR 492</div><div class="badge" style="left:516.67px;top:165.03px;width:66.67px;height:23.89px;background:#ff4d49"></div><div class="t w" style="top:170.82px;font-size:13.3px;left:400.00px;width:300px;text-align:center;letter-spacing:.2px;-webkit-text-stroke:.3px #fff">Pending</div></section>
<section class="card tcard" style="left:1137.94px;top:633.33px;width:663.72px;height:140.67px"><div class="t h" style="top:23.35px;font-size:15.6px;left:20.67px;letter-spacing:.1px">Low Stock Items</div><div class="tbl" style="left:20.22px;top:50.0px;width:623.61px;height:70.56px"><i style="top:34.620000000000005px"></i></div><div class="t th" style="top:61.24px;font-size:13.4px;left:36.67px;">Product</div><div class="t th" style="top:61.24px;font-size:13.4px;left:222.50px;">SKU</div><div class="t th" style="top:61.24px;font-size:13.4px;right:136.11px;">Current</div><div class="t th" style="top:61.24px;font-size:13.4px;right:36.83px;">Min</div><div class="t td" style="top:96.47px;font-size:13.55px;left:36.67px;">3 piece suit</div><div class="t td" style="top:96.47px;font-size:13.55px;left:222.50px;">3-piece-suit</div><div class="t" style="top:94.96px;font-size:15.6px;right:136.11px;color:#ff4d49;letter-spacing:.3px">0</div><div class="t td" style="top:96.47px;font-size:13.55px;right:36.83px;">10</div></section>
<section class="card tcard" style="left:449.61px;top:873.33px;width:663.72px;height:140.22px"><div class="t h" style="top:23.63px;font-size:15.6px;left:20.67px;letter-spacing:.1px">Top Performing Products</div><div class="tbl" style="left:20.22px;top:50.28px;width:623.61px;height:69.72px"><i style="top:34.510000000000005px"></i></div><div class="t th" style="top:61.46px;font-size:13.4px;left:37.06px;">Product</div><div class="t th" style="top:61.46px;font-size:13.4px;right:355.28px;">Sales</div><div class="t th" style="top:61.46px;font-size:13.4px;right:187.61px;">Revenue</div><div class="t th" style="top:61.46px;font-size:13.4px;right:36.83px;">Growth</div><div class="t td" style="top:96.31px;font-size:13.55px;left:37.06px;">Angelfish</div><div class="t td" style="top:96.31px;font-size:13.55px;right:355.28px;">9</div><div class="t td" style="top:96.31px;font-size:13.55px;right:187.61px;">PKR 155</div><div class="t" style="top:94.79px;font-size:15.6px;right:36.83px;color:#72e128;letter-spacing:.3px">+44%</div></section>
<section class="card tcard" style="left:1137.94px;top:873.33px;width:663.72px;height:138.56px"><div class="t h" style="top:23.63px;font-size:15.6px;left:20.67px;letter-spacing:.1px">Top Customers</div><div class="tbl" style="left:20.22px;top:50.28px;width:623.61px;height:68.06px"><i style="top:34.510000000000005px"></i></div><div class="t th" style="top:61.46px;font-size:13.4px;left:36.67px;">Customer</div><div class="t th" style="top:61.46px;font-size:13.4px;right:385.56px;">Orders</div><div class="t th" style="top:61.46px;font-size:13.4px;right:219.44px;">Total Spent</div><div class="t th" style="top:61.46px;font-size:13.4px;left:476.78px;">Last Order</div><div class="t td" style="top:95.47px;font-size:13.55px;left:36.67px;">Ahmad Ali</div><div class="t td" style="top:95.47px;font-size:13.55px;right:385.56px;">1</div><div class="t td" style="top:95.47px;font-size:13.55px;right:219.44px;">PKR 178</div><div class="t td" style="top:95.47px;font-size:13.55px;left:476.78px;">Oct 23, 2025</div></section>
<section class="card ship" style="left:449.61px;top:1037.78px;width:663.72px;height:523.11px"><div class="t h" style="top:24.90px;font-size:18.5px;left:20.56px;letter-spacing:.52px">Shipment Statistics</div><div class="t s3" style="top:51.52px;font-size:15.6px;left:20.56px;letter-spacing:.3px">Total number of deliveries 0</div><svg class="abs chart" style="left:0;top:0;width:663.72px;height:523.11px" viewBox="0 0 1194.7 941.6"><line x1="126.9" y1="215.8" x2="1091.7" y2="215.8" stroke="#e4e4e9" stroke-width="1.9" stroke-dasharray="14.4 14.4"/><text x="100.2" y="220.2" text-anchor="end" class="ax">1</text><line x1="126.9" y1="270.2" x2="1091.7" y2="270.2" stroke="#e4e4e9" stroke-width="1.9" stroke-dasharray="14.4 14.4"/><text x="100.2" y="274.6" text-anchor="end" class="ax">0.9</text><line x1="126.9" y1="324.5" x2="1091.7" y2="324.5" stroke="#e4e4e9" stroke-width="1.9" stroke-dasharray="14.4 14.4"/><text x="100.2" y="328.9" text-anchor="end" class="ax">0.8</text><line x1="126.9" y1="378.9" x2="1091.7" y2="378.9" stroke="#e4e4e9" stroke-width="1.9" stroke-dasharray="14.4 14.4"/><text x="100.2" y="383.3" text-anchor="end" class="ax">0.7</text><line x1="126.9" y1="433.2" x2="1091.7" y2="433.2" stroke="#e4e4e9" stroke-width="1.9" stroke-dasharray="14.4 14.4"/><text x="100.2" y="437.6" text-anchor="end" class="ax">0.6</text><line x1="126.9" y1="487.6" x2="1091.7" y2="487.6" stroke="#e4e4e9" stroke-width="1.9" stroke-dasharray="14.4 14.4"/><text x="100.2" y="492.0" text-anchor="end" class="ax">0.5</text><line x1="126.9" y1="542.0" x2="1091.7" y2="542.0" stroke="#e4e4e9" stroke-width="1.9" stroke-dasharray="14.4 14.4"/><text x="100.2" y="546.4" text-anchor="end" class="ax">0.4</text><line x1="126.9" y1="596.3" x2="1091.7" y2="596.3" stroke="#e4e4e9" stroke-width="1.9" stroke-dasharray="14.4 14.4"/><text x="100.2" y="600.7" text-anchor="end" class="ax">0.3</text><line x1="126.9" y1="650.7" x2="1091.7" y2="650.7" stroke="#e4e4e9" stroke-width="1.9" stroke-dasharray="14.4 14.4"/><text x="100.2" y="655.1" text-anchor="end" class="ax">0.2</text><line x1="126.9" y1="705.0" x2="1091.7" y2="705.0" stroke="#e4e4e9" stroke-width="1.9" stroke-dasharray="14.4 14.4"/><text x="100.2" y="709.4" text-anchor="end" class="ax">0.1</text><line x1="126.9" y1="759.4" x2="1091.7" y2="759.4" stroke="#e4e4e9" stroke-width="1.9" stroke-dasharray="14.4 14.4"/><text x="100.2" y="763.8" text-anchor="end" class="ax">0</text><path d="M793.1 759.4V224.8a9 9 0 0 1 9-9h43.6a9 9 0 0 1 9 9V759.4z" fill="#fdb528"/><path d="M199.9 759.4H1031.5" stroke="#666cff" stroke-width="5.4" fill="none"/><circle cx="199.9" cy="759.4" r="9.1" fill="#fff" stroke="#666cff" stroke-width="3.5"/><text x="199.9" y="803.8" text-anchor="middle" class="ax" style="letter-spacing:.4px">Week 1</text><circle cx="408.0" cy="759.4" r="9.1" fill="#fff" stroke="#666cff" stroke-width="3.5"/><text x="408.0" y="803.8" text-anchor="middle" class="ax" style="letter-spacing:.4px">Week 2</text><circle cx="615.8" cy="759.4" r="9.1" fill="#fff" stroke="#666cff" stroke-width="3.5"/><text x="615.8" y="803.8" text-anchor="middle" class="ax" style="letter-spacing:.4px">Week 3</text><circle cx="823.6" cy="759.4" r="9.1" fill="#fff" stroke="#666cff" stroke-width="3.5"/><text x="823.6" y="803.8" text-anchor="middle" class="ax" style="letter-spacing:.4px">Week 4</text><circle cx="1031.5" cy="759.4" r="9.1" fill="#fff" stroke="#666cff" stroke-width="3.5"/><text x="1031.5" y="803.8" text-anchor="middle" class="ax" style="letter-spacing:.4px">Week 5</text></svg><div class="lg" style="left:215.56px;top:468.0px;width:110.78px;height:32.72px"><i style="background:#fdb528"></i></div><div class="t p" style="top:476.71px;font-size:15.7px;left:243.17px;font-weight:400;letter-spacing:.18px">Shipment</div><div class="lg" style="left:346.67px;top:468.0px;width:101.28px;height:32.72px"><i style="background:#666cff"></i></div><div class="t p" style="top:476.71px;font-size:15.7px;left:374.39px;font-weight:400;letter-spacing:.25px">Delivery</div></section>
</main>
<footer><div class="t s2" style="top:1624.52px;font-size:15.4px;left:430.28px;letter-spacing:.42px;white-space:nowrap">© 2025, Made with <span class="heart">❤</span> by <span style="color:#666cff;letter-spacing:-.3px">MODVENTRIX</span></div></footer>
<div class="fab-set" style="left:1952.78px;top:213.89px;width:44.44px;height:38.5px"><svg viewBox="0 0 24 24" fill="none" stroke="#fff" stroke-width="2" stroke-linejoin="round"><path d="M10.44 3.14L13.56 3.14Q13.34 8.77 17.16 4.63L19.37 6.84Q15.23 10.66 20.86 10.44L20.86 13.56Q15.23 13.34 19.37 17.16L17.16 19.37Q13.34 15.23 13.56 20.86L10.44 20.86Q10.66 15.23 6.84 19.37L4.63 17.16Q8.77 13.34 3.14 13.56L3.14 10.44Q8.77 10.66 4.63 6.84L6.84 4.63Q10.66 8.77 10.44 3.14Z"/><circle cx="12" cy="12" r="2"/></svg></div>
<div class="fab-top" style="left:1911.17px;top:1562.72px;width:39.94px;height:39.94px"><svg viewBox="0 0 24 24" fill="#fff"><path d="M13.0001 7.82843V20H11.0001V7.82843L5.63614 13.1924L4.22192 11.7782L12.0001 4L19.7783 11.7782L18.3641 13.1924L13.0001 7.82843Z"/></svg></div>
</div>
</body>
</html>
